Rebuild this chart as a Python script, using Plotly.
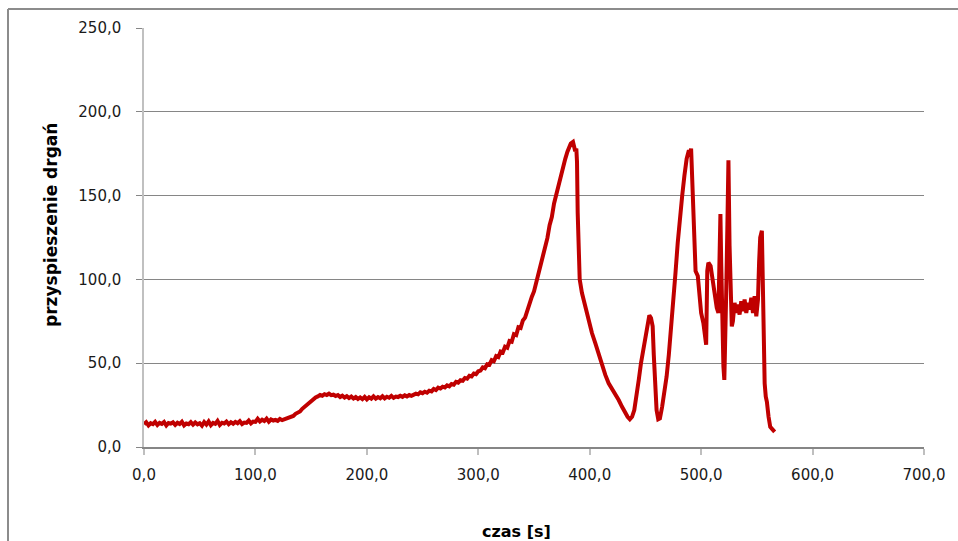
import plotly.graph_objects as go

# time [s]
czas = (
    [0, 2, 4, 6, 8, 10, 12, 14, 16, 18, 20, 22, 24, 26, 28, 30, 32, 34, 36, 38,
     40, 42, 44, 46, 48, 50, 52, 54, 56, 58, 60, 62, 64, 66, 68, 70, 72, 74, 76, 78,
     80, 82, 84, 86, 88, 90, 92, 94, 96, 98, 100, 102, 104, 106, 108, 110, 112, 114, 116, 118,
     120, 122, 124, 126, 128, 130]
    + [132, 134, 136, 138, 140, 142, 144, 146, 148, 150, 152, 154, 156, 158, 160, 162, 164, 166, 168, 170]
    + [172, 174, 176, 178, 180, 182, 184, 186, 188, 190, 192, 194, 196, 198, 200, 202, 204, 206, 208, 210,
       212, 214, 216, 218, 220, 222, 224, 226, 228, 230, 232, 234, 236, 238, 240]
    + [242, 244, 246, 248, 250, 252, 254, 256, 258, 260, 262, 264, 266, 268, 270, 272, 274, 276, 278, 280,
       282, 284, 286, 288, 290, 292, 294, 296, 298, 300, 302, 304, 306, 308, 310, 312, 314, 316, 318, 320,
       322, 324, 326, 328, 330, 332, 334, 336, 338, 340, 342, 344, 346, 348, 350, 352, 354, 356, 358, 360,
       362, 364, 366, 368, 370, 372, 374, 376, 378, 380, 383, 385, 386, 387, 388,
       388.6, 389.2, 390, 391, 393, 396, 399, 402, 405, 408, 411, 414, 417, 420, 423, 426, 429, 432, 434, 436,
       438, 440, 442, 444, 446, 448, 450, 452, 453.5, 455, 456.5, 457.5, 458.5, 460, 461.5, 463, 465, 467, 469, 471,
       473, 475, 477, 479, 481, 483, 485, 487, 489, 490, 491, 492, 493, 494, 495, 497, 498.5, 500, 502, 503.5,
       504.5, 505.5, 506.5, 508.5, 510, 512, 514, 515.5, 516.5, 517.3, 518, 519, 520, 520.8, 521.5, 522.5, 523.5, 524.5,
       525.5, 526.5, 527.5, 528.5, 530, 531.5, 533, 534.5, 536, 537.5, 539, 540.5, 542, 543.5, 545, 546.5, 548, 549.5,
       551, 552, 553, 554.5, 555.3, 556, 557, 558, 559, 560.5, 562, 564, 566]
)

# vibration acceleration
przyspieszenie = (
    [13.5, 14.8, 12.9, 14.2, 13.6, 15.0, 13.1, 14.4, 13.8, 14.9, 12.8, 14.3, 13.9, 14.7, 13.2, 14.5, 13.7, 15.1, 12.9, 14.0,
     13.6, 14.8, 13.3, 14.6, 13.5, 14.2, 12.7, 14.9, 13.4, 15.3, 13.0, 14.4, 13.8, 15.6, 13.2, 14.5, 14.0, 15.2, 13.6, 14.8,
     13.9, 15.0, 14.2, 15.4, 13.7, 14.6, 14.4, 15.8, 14.1, 15.2, 15.0, 16.8, 15.2, 16.3, 15.5, 16.9, 15.1, 16.4, 15.8, 16.2,
     15.6, 16.7, 16.0, 16.6, 16.9, 17.6]
    + [18.0, 18.5, 19.8, 20.5, 21.2, 22.8, 24.0, 25.5, 26.2, 27.8, 28.5, 29.6, 30.2, 31.0, 30.6, 31.5, 31.0, 31.8, 30.9, 31.2]
    + [30.4, 31.0, 29.8, 30.6, 29.5, 30.3, 29.2, 30.1, 28.9, 29.8, 28.7, 29.6, 28.6, 29.9, 28.4, 29.7, 28.8, 30.2, 28.9, 29.8,
       29.1, 30.3, 29.0, 30.0, 29.4, 30.5, 29.3, 30.1, 29.8, 30.6, 29.9, 30.8, 30.2, 31.0, 30.5]
    + [31.2, 31.8, 31.4, 32.6, 32.1, 33.0, 32.4, 33.6, 33.2, 34.6, 34.0, 35.4, 34.9, 36.0, 35.5, 36.8, 36.2, 37.6, 37.2, 38.9,
       38.4, 39.8, 39.5, 41.2, 40.8, 42.5, 42.1, 43.8, 43.4, 45.2, 45.6, 47.5, 47.0, 49.4, 49.1, 51.8, 51.2, 54.2, 53.6, 56.9,
       56.4, 59.8, 59.2, 63.2, 62.8, 67.3, 66.8, 71.4, 71.0, 75.5, 77.2, 81.8, 84.6, 89.5, 92.8, 98.4, 102.6, 108.5, 112.8, 119.4,
       124.6, 132.4, 137.2, 145.3, 150.6, 158.2, 162.0, 168.3, 171.8, 176.2, 181.0, 182.0, 180.0, 176.5, 178.0,
       170.0, 140.0, 118.0, 100.0, 92.0, 84.0, 74.0, 68.0, 62.0, 55.0, 48.0, 43.0, 38.0, 35.0, 31.0, 28.0, 24.0, 20.0, 18.0, 16.5,
       18.0, 22.0, 30.0, 40.0, 50.0, 58.0, 66.0, 74.0, 78.5, 77.0, 72.0, 55.0, 35.0, 22.0, 16.5, 17.0, 24.0, 32.0, 42.0, 55.0,
       70.0, 86.0, 104.0, 122.0, 138.0, 150.0, 162.0, 172.0, 177.0, 175.0, 178.0, 160.0, 140.0, 120.0, 105.0, 102.0, 88.0, 80.0, 74.0, 68.0,
       61.0, 105.0, 110.0, 108.0, 100.0, 90.0, 83.0, 80.0, 120.0, 139.0, 110.0, 70.0, 48.0, 40.0, 85.0, 92.0, 130.0, 171.0,
       120.0, 95.0, 72.0, 75.0, 86.0, 80.0, 85.0, 79.0, 87.0, 81.0, 88.0, 80.0, 86.0, 82.0, 89.0, 80.0, 90.0, 78.0,
       88.0, 110.0, 125.0, 129.0, 100.0, 45.0, 38.0, 30.0, 27.0, 18.0, 12.0, 10.5, 9.0]
)

x_ticks = [0, 100, 200, 300, 400, 500, 600, 700]
x_tick_labels = ["0,0", "100,0", "200,0", "300,0", "400,0", "500,0", "600,0", "700,0"]
y_ticks = [0, 50, 100, 150, 200, 250]
y_tick_labels = ["0,0", "50,0", "100,0", "150,0", "200,0", "250,0"]

W, H = 958, 541
L, R, T, B = 144, 34, 28, 94
pw, ph = W - L - R, H - T - B

def px(xp):
    return (xp - L) / pw

def py(yp):
    return (H - B - yp) / ph

fig = go.Figure()
fig.add_trace(go.Scatter(
    x=czas, y=przyspieszenie, mode="lines",
    line=dict(color="#c00000", width=4),
    hoverinfo="x+y", showlegend=False,
))

tickfont = dict(family="DejaVu Sans", size=15, color="#1a1a1a")

fig.update_layout(
    width=W, height=H,
    margin=dict(l=L, r=R, t=T, b=B),
    paper_bgcolor="white", plot_bgcolor="white",
    showlegend=False,
    xaxis=dict(
        range=[0, 700], tickvals=x_ticks, ticktext=x_tick_labels,
        showgrid=False, zeroline=False,
        showline=True, linecolor="#868686", linewidth=1.5,
        ticks="outside", ticklen=6, tickcolor="#bfbfbf", tickwidth=2,
        tickfont=tickfont, ticklabelstandoff=7,
    ),
    yaxis=dict(
        range=[0, 250], tickvals=y_ticks, ticktext=y_tick_labels,
        showgrid=True, gridcolor="#868686", gridwidth=1.3,
        zeroline=False,
        showline=True, linecolor="#c0c0c0", linewidth=1.5,
        ticks="outside", ticklen=6, tickcolor="#868686", tickwidth=1.3,
        tickfont=tickfont, ticklabelstandoff=12,
    ),
    annotations=[
        dict(text="<b>przyspieszenie drgań</b>", xref="paper", yref="paper",
             x=px(51), y=py(225), textangle=-90, showarrow=False,
             font=dict(family="DejaVu Sans", size=17, color="#000000"),
             xanchor="center", yanchor="middle"),
        dict(text="<b>czas [s]</b>", xref="paper", yref="paper",
             x=px(516), y=py(531), showarrow=False,
             font=dict(family="DejaVu Sans", size=16, color="#000000"),
             xanchor="center", yanchor="middle"),
    ],
    shapes=[
        dict(type="line", xref="paper", yref="paper",
             x0=px(8), y0=py(9), x1=px(970), y1=py(9),
             line=dict(color="#8c8c8c", width=2)),
        dict(type="line", xref="paper", yref="paper",
             x0=px(8), y0=py(9), x1=px(8), y1=py(560),
             line=dict(color="#8c8c8c", width=2)),
    ],
)

fig.write_html("out.html")
